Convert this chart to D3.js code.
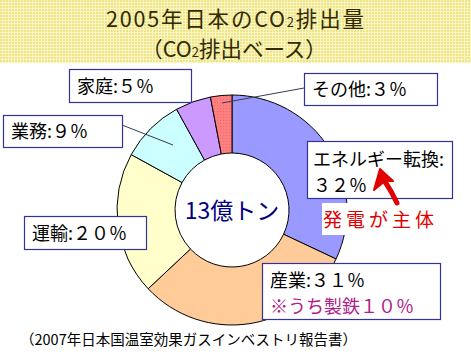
<!DOCTYPE html>
<html><head><meta charset="utf-8">
<script src="https://cdn.jsdelivr.net/npm/d3@7"></script>
<style>body{margin:0;background:#fff;}svg{display:block;}</style>
</head><body>
<svg id="c" width="471" height="356"></svg>
<script>
const categories = ["エネルギー転換", "産業", "運輸", "業務", "家庭", "その他"];
const values = [32, 31, 20, 9, 5, 3];
const colors = ["#9999FF", "#FFCC99", "#FFFFCC", "#CCFFFF", "#CC99FF", "#FF8080"];
const titleLines = ["2005年日本のCO", "（CO"];
const centerLabel = "13億トン";
const note = "（2007年日本国温室効果ガスインベストリ報告書）";
const subNotes = ["※うち製鉄１０％", "発電が主体"];

const svg = d3.select("#c");
const W = 471, H = 356;
const FONT = "'Noto Sans CJK JP', 'Noto Sans', sans-serif";
const fw = n => String(n).replace(/[0-9]/g, c => String.fromCharCode(c.charCodeAt(0) + 0xFEE0)) + "％";

const defs = svg.append("defs");
const pat = defs.append("pattern").attr("id","dots").attr("width",3).attr("height",3).attr("patternUnits","userSpaceOnUse");
pat.append("rect").attr("width",3).attr("height",3).attr("fill","#F9F6C4");
pat.append("rect").attr("width",2).attr("height",2).attr("fill","#EEE486");
const hatch = defs.append("pattern").attr("id","hatch").attr("width",3).attr("height",3).attr("patternUnits","userSpaceOnUse");
hatch.append("rect").attr("width",3).attr("height",3).attr("fill","#FF8080");
hatch.append("rect").attr("width",1).attr("height",1).attr("fill","#F06868");

svg.append("rect").attr("x",0).attr("y",0).attr("width",W).attr("height",63).attr("fill","url(#dots)");

// title
const t1 = svg.append("text").attr("x",235).attr("y",27).attr("text-anchor","middle")
  .attr("font-family",FONT).attr("font-size",21.5).attr("textLength",258).attr("lengthAdjust","spacing").attr("fill","#332A00");
t1.append("tspan").text(titleLines[0]);
t1.append("tspan").attr("font-size",13).text("2");
t1.append("tspan").text("排出量");
const t2 = svg.append("text").attr("x",234).attr("y",57).attr("text-anchor","middle")
  .attr("font-family",FONT).attr("font-size",21.5).attr("fill","#332A00");
t2.append("tspan").text(titleLines[1]);
t2.append("tspan").attr("font-size",13).text("2");
t2.append("tspan").text("排出ベース）");

// donut
const cx = 232, cy = 210, rOuter = 115, rInner = 57;
const pie = d3.pie().sort(null).value(d => d)(values);
const arc = d3.arc().innerRadius(rInner).outerRadius(rOuter);
const g = svg.append("g").attr("transform",`translate(${cx},${cy})`);
g.selectAll("path").data(pie).join("path")
  .attr("d", arc)
  .attr("fill", (d,i) => i === 5 ? "url(#hatch)" : colors[i])
  .attr("stroke","#000").attr("stroke-width",1);

g.append("text").attr("x",0).attr("y",9).attr("text-anchor","middle")
  .attr("font-family",FONT).attr("font-size",23).attr("fill","#000080").text(centerLabel);

// leader lines
const lineColor = "#3A3A55";
svg.append("line").attr("x1",304).attr("y1",88).attr("x2",222).attr("y2",103).attr("stroke",lineColor).attr("stroke-width",1);
svg.append("line").attr("x1",122).attr("y1",125).attr("x2",173).attr("y2",145).attr("stroke",lineColor).attr("stroke-width",1);

const fs = 18;
const boxes = [
  {i:4, x:69, y:69, w:122, h:33},
  {i:3, x:3, y:115, w:119, h:32},
  {i:2, x:24, y:216, w:122, h:33},
  {i:5, x:304, y:73, w:133, h:32},
];
boxes.forEach(b => {
  svg.append("rect").attr("x",b.x+0.5).attr("y",b.y+0.5).attr("width",b.w).attr("height",b.h)
    .attr("fill","#fff").attr("stroke","#333399").attr("stroke-width",1.2);
  svg.append("text").attr("x",b.x+8).attr("y",b.y+b.h/2+7).attr("font-family",FONT).attr("font-size",fs)
    .attr("fill","#000").text(categories[b.i] + ":" + fw(values[b.i]));
});

// white backdrop behind 発電が主体
svg.append("rect").attr("x",322).attr("y",203).attr("width",120).attr("height",32).attr("fill","#fff");

// energy box
svg.append("rect").attr("x",307.5).attr("y",141.5).attr("width",145).attr("height",57)
  .attr("fill","#fff").attr("stroke","#333399").attr("stroke-width",1.2);
svg.append("text").attr("x",313).attr("y",166).attr("font-family",FONT).attr("font-size",fs).text(categories[0] + ":");
svg.append("text").attr("x",313).attr("y",192).attr("font-family",FONT).attr("font-size",fs).text(fw(values[0]));

// industry box
svg.append("rect").attr("x",262.5).attr("y",263.5).attr("width",178).attr("height",56)
  .attr("fill","#fff").attr("stroke","#333399").attr("stroke-width",1.2);
svg.append("text").attr("x",270).attr("y",287).attr("font-family",FONT).attr("font-size",fs).text(categories[1] + ":" + fw(values[1]));
svg.append("text").attr("x",270).attr("y",313).attr("font-family",FONT).attr("font-size",fs).attr("fill","#B0208A").text(subNotes[0]);

// red note + arrow
svg.append("text").attr("x",323).attr("y",227).attr("font-family",FONT).attr("font-size",19).attr("letter-spacing",4).attr("fill","#E00000").text(subNotes[1]);
svg.append("path").attr("d","M397,203 Q392,192 384,180").attr("fill","none").attr("stroke","#E00000").attr("stroke-width",5).attr("stroke-linecap","round");
svg.append("path").attr("d","M380,169 L393,181 L385,181 L374,190 Z").attr("fill","#E00000").attr("stroke","#E00000").attr("stroke-width",2).attr("stroke-linejoin","round");

// footnote
svg.append("text").attr("x",20).attr("y",345).attr("font-family",FONT).attr("font-size",14.5).attr("fill","#000").text(note);
</script>
</body></html>
